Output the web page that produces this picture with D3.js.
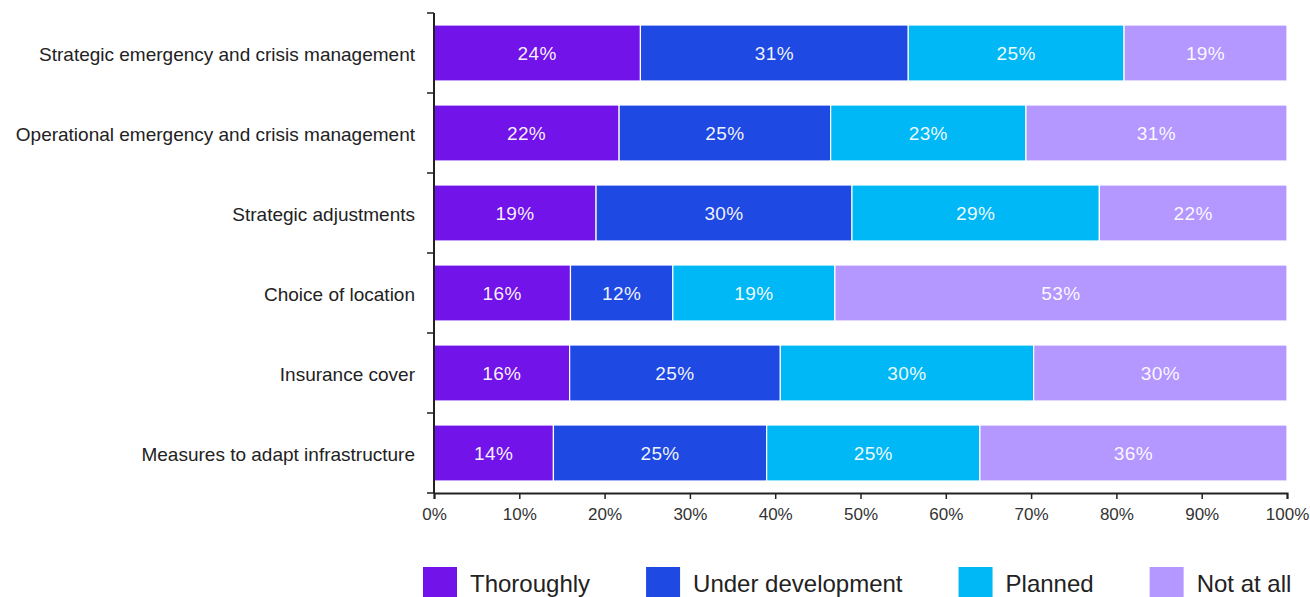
<!DOCTYPE html>
<html>
<head>
<meta charset="utf-8">
<script src="https://cdn.jsdelivr.net/npm/d3@7"></script>
<style>
  html, body { margin: 0; padding: 0; background: #fff; }
  svg { display: block; font-family: "Liberation Sans", Arial, sans-serif; }
</style>
</head>
<body>
<svg id="chart" width="1310" height="597"></svg>
<script>
// Survey categories (top to bottom)
const categories = [
  "Strategic emergency and crisis management",
  "Operational emergency and crisis management",
  "Strategic adjustments",
  "Choice of location",
  "Insurance cover",
  "Measures to adapt infrastructure"
];

// Response groups (stack order, left to right)
const seriesNames = ["Thoroughly", "Under development", "Planned", "Not at all"];
const seriesColors = ["#7213EA", "#1E49E2", "#00B8F5", "#B497FF"];

// Share of respondents per category, in percent
const thoroughly       = [24.2, 21.7, 19.0, 16.0, 15.9, 14.0];
const underDevelopment = [31.4, 24.8, 30.0, 12.0, 24.7, 25.0];
const planned          = [25.3, 22.9, 29.0, 19.0, 29.7, 25.0];
const notAtAll         = [19.1, 30.6, 22.0, 53.0, 29.7, 36.0];

const xTicks = [0, 10, 20, 30, 40, 50, 60, 70, 80, 90, 100];

const seriesValues = [thoroughly, underDevelopment, planned, notAtAll];
const rows = categories.map((c, i) => {
  const r = { category: c };
  seriesNames.forEach((s, j) => { r[s] = seriesValues[j][i]; });
  return r;
});

const svg = d3.select("#chart");
const margin = { top: 13, left: 434, right: 23, bottom: 104 };
const W = 1310, H = 597;

const x = d3.scaleLinear().domain([0, 100]).range([margin.left, W - margin.right]);
const y = d3.scaleBand().domain(categories)
  .range([margin.top, H - margin.bottom])
  .paddingInner(0.3).paddingOuter(0.15);
const color = d3.scaleOrdinal().domain(seriesNames).range(seriesColors);

const stacked = d3.stack().keys(seriesNames)(rows);
const fmt = v => d3.format(".0f")(v) + "%";

// Stacked bar segments
const layers = svg.append("g").selectAll("g")
  .data(stacked).join("g")
  .attr("fill", d => color(d.key));

layers.selectAll("rect")
  .data(d => d.map(p => ({ p, key: d.key })))
  .join("rect")
  .attr("x", d => x(d.p[0]))
  .attr("y", d => y(d.p.data.category))
  .attr("width", d => x(d.p[1]) - x(d.p[0]))
  .attr("height", y.bandwidth())
  .attr("stroke", "#fff")
  .attr("stroke-width", 1.2);

// Value labels centred in each segment
layers.selectAll("text")
  .data(d => d.map(p => ({ p, key: d.key })))
  .join("text")
  .attr("x", d => (x(d.p[0]) + x(d.p[1])) / 2)
  .attr("y", d => y(d.p.data.category) + y.bandwidth() / 2)
  .attr("dy", "0.35em")
  .attr("text-anchor", "middle")
  .attr("fill", "#fff")
  .attr("fill-opacity", 0.95)
  .style("font-size", "19px")
  .style("letter-spacing", "0.4px")
  .text(d => fmt(d.p[1] - d.p[0]));

// X axis
const xAxis = svg.append("g")
  .attr("transform", `translate(0,${H - margin.bottom})`)
  .call(d3.axisBottom(x).tickValues(xTicks).tickSize(6).tickSizeOuter(6).tickFormat(d => d + "%"));
xAxis.select(".domain").attr("stroke", "#222").attr("stroke-width", 2);
xAxis.selectAll(".tick line").attr("stroke", "#222").attr("stroke-width", 1.5);
xAxis.selectAll(".tick text")
  .attr("fill", "#333")
  .attr("y", 15)
  .style("font-size", "17px")
  .style("font-family", "'Liberation Sans', Arial, sans-serif");

// Y axis: vertical line with ticks at band boundaries
const yTop = y.range()[0], yBot = y.range()[1];
const yAxis = svg.append("g");
yAxis.append("line")
  .attr("x1", x(0)).attr("x2", x(0))
  .attr("y1", yTop).attr("y2", yBot)
  .attr("stroke", "#222").attr("stroke-width", 2);
yAxis.selectAll("line.bound")
  .data(d3.range(categories.length + 1))
  .join("line")
  .attr("class", "bound")
  .attr("x1", x(0) - 7).attr("x2", x(0))
  .attr("y1", i => yTop + i * y.step())
  .attr("y2", i => yTop + i * y.step())
  .attr("stroke", "#222").attr("stroke-width", 1.5);

// Category labels
svg.append("g").selectAll("text")
  .data(categories).join("text")
  .attr("x", x(0) - 19)
  .attr("y", d => y(d) + y.bandwidth() / 2)
  .attr("dy", "0.42em")
  .attr("text-anchor", "end")
  .attr("fill", "#222")
  .style("font-size", "19px")
  .text(d => d);

// Legend
const legend = svg.append("g").attr("transform", "translate(423,567)");
let lx = 0;
seriesNames.forEach((name, i) => {
  const g = legend.append("g").attr("transform", `translate(${lx},0)`);
  g.append("rect").attr("width", 34).attr("height", 32).attr("fill", color(name));
  const t = g.append("text")
    .attr("x", 47).attr("y", 25)
    .attr("fill", "#222")
    .style("font-size", "24px")
    .text(name);
  lx += 47 + t.node().getComputedTextLength() + 56;
});
</script>
</body>
</html>
